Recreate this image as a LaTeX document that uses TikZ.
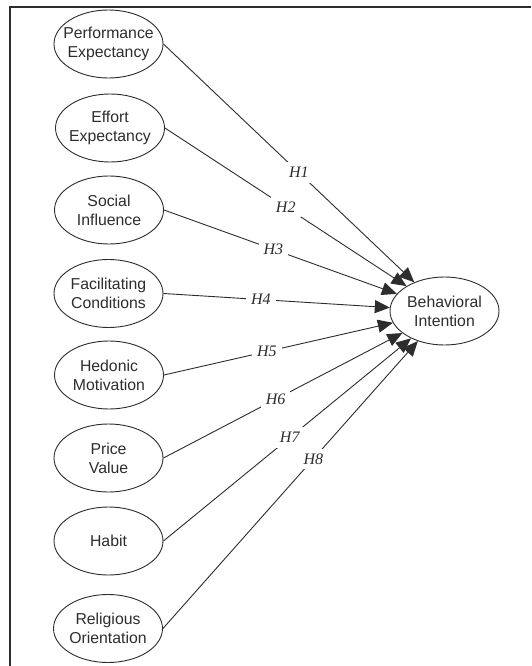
\documentclass[tikz,border=0pt]{standalone}
\usepackage{fontspec}
\setmainfont{Liberation Sans}
\newfontfamily\hypfont{Liberation Serif}
\usetikzlibrary{shapes.geometric,arrows.meta}
\definecolor{ink}{RGB}{45,45,45}
\tikzset{
  construct/.style={ellipse, draw=ink, line width=0.9pt, minimum width=109pt,
    minimum height=68pt, inner sep=0pt},
  ctext/.style={align=center, text=ink, inner sep=0pt,
    font=\fontsize{15.8}{19}\selectfont},
  path/.style={draw=ink, line width=0.9pt, -{Triangle[length=15pt,width=13pt]}},
  hyp/.style={fill=white, text=ink, inner sep=5pt,
    font=\hypfont\itshape\fontsize{16}{16}\selectfont},
  frame/.style={draw=ink, line width=1.6pt}
}
\begin{document}
\begin{tikzpicture}[x=1pt,y=-1pt]
\useasboundingbox (0,0) rectangle (531,666);
\fill[white] (0,0) rectangle (531,666);
% frame edges
\coordinate (tl) at (10,7);
\coordinate (tr) at (531,7);
\coordinate (bl) at (10,666);
\draw[frame] (tr) -- (tl) -- (bl);

% exogenous constructs
\node[construct, label={[ctext]center:Performance\\Expectancy}] (pe) at (108.5,44) {};
\node[construct, label={[ctext]center:Effort\\Expectancy}] (ee) at (110,128) {};
\node[construct, label={[ctext]center:Social\\Influence}] (si) at (109,210) {};
\node[construct, label={[ctext]center:Facilitating\\Conditions}] (fc) at (108.5,293.5) {};
\node[construct, label={[ctext]center:Hedonic\\Motivation}] (hm) at (109,375) {};
\node[construct, label={[ctext]center:Price\\Value}] (pv) at (108.5,458) {};
\node[construct, label={[ctext]center:Habit}] (hb) at (108.5,541) {};
\node[construct, label={[ctext]center:Religious\\Orientation}] (ro) at (108,628.5) {};

% endogenous construct
\node[construct, label={[ctext]center:Behavioral\\Intention}] (bi) at (444.5,311) {};

% hypothesised paths
\draw[path] (pe.east) -- (bi) node[hyp, pos=0.54] {H1};
\draw[path] (ee.east) -- (bi) node[hyp, pos=0.50] {H2};
\draw[path] (si.east) -- (bi) node[hyp, pos=0.47] {H3};
\draw[path] (fc.east) -- (bi) node[hyp, pos=0.43] {H4};
\draw[path] (hm.east) -- (bi) node[hyp, pos=0.45] {H5};
\draw[path] (pv.east) -- (bi) node[hyp, pos=0.47] {H6};
\draw[path] (hb.east) -- (bi) node[hyp, pos=0.51] {H7};
\draw[path] (ro.east) -- (bi) node[hyp, pos=0.59] {H8};
\end{tikzpicture}
\end{document}
